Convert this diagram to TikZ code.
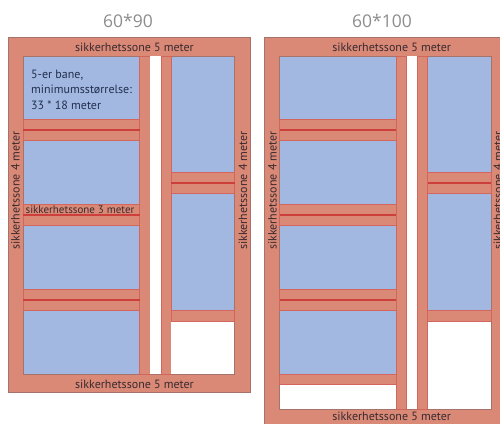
\documentclass[tikz,border=0pt]{standalone}
\usepackage{fontspec}
\setmainfont{PT Sans}
\newfontfamily\titlefont{Open Sans}
\definecolor{zone}{HTML}{D98976}
\definecolor{pitch}{HTML}{A2B8E0}
\definecolor{edgegray}{HTML}{A5736B}
\definecolor{redline}{HTML}{CC3F3A}
\definecolor{strip}{HTML}{D4655C}
\definecolor{txt}{HTML}{3A2A30}
\definecolor{navy}{HTML}{22304F}
\definecolor{titlegray}{HTML}{8C8C8C}
\tikzset{
  outerzone/.style={fill=zone,draw=edgegray,line width=0.7pt},
  innerfield/.style={fill=pitch,draw=edgegray,line width=0.7pt},
  whitearea/.style={fill=white,draw=none},
  stripbox/.style={fill=zone,draw=strip,line width=0.7pt},
  midline/.style={draw=redline,line width=1.5pt},
  lbl/.style={font=\fontsize{12}{14}\selectfont,text=txt,inner sep=0pt},
  ttl/.style={font=\titlefont\fontsize{17.5}{20}\selectfont,text=titlegray,inner sep=0pt},
}
\begin{document}
\begin{tikzpicture}[x=1pt,y=-1pt]
\useasboundingbox (0,0) rectangle (500,423);
% left panel
\path[outerzone] (8,37.5) rectangle (250,392);
\path[innerfield] (23,56) rectangle (234.7,374);
\path[stripbox] (139.5,56) rectangle (150,374);
\path[stripbox] (161,56) rectangle (171,374);
\path[whitearea] (150.3,56) rectangle (160.7,374);
\path[whitearea] (171.3,321) rectangle (234.3,373.6);
\foreach \ya/\yb/\ym in {119.5/140.5/130,204.5/225.3/215,289.3/310.3/300}{
  \path[stripbox] (23,\ya) rectangle (139.5,\yb);
  \draw[midline] (23,\ym) -- (139.5,\ym);
}
\path[stripbox] (171,172.3) rectangle (234.7,193.3);
\draw[midline] (171,183) -- (234.7,183);
\path[stripbox] (171,310.3) rectangle (234.7,321);
% right panel
\path[outerzone] (264.3,37.5) rectangle (503,426);
\path[innerfield] (279.5,56) rectangle (491.2,409);
\path[stripbox] (396,56) rectangle (406.5,409);
\path[stripbox] (417.5,56) rectangle (427.5,409);
\path[whitearea] (406.8,56) rectangle (417.2,409);
\path[whitearea] (427.8,321) rectangle (490.8,408.6);
\foreach \ya/\yb/\ym in {119.5/140.5/130,204.5/225.3/215,289.3/310.3/300}{
  \path[stripbox] (279.5,\ya) rectangle (396,\yb);
  \draw[midline] (279.5,\ym) -- (396,\ym);
}
\path[stripbox] (427.5,172.3) rectangle (491.2,193.3);
\draw[midline] (427.5,183) -- (491.2,183);
\path[stripbox] (427.5,310.3) rectangle (491.2,321);
\path[stripbox] (279.5,374.3) rectangle (396,384.7);
\path[whitearea] (279.9,385.1) rectangle (395.6,408.6);
% texts
\node[ttl] (t1) at (128,21) {60*90};
\node[ttl] (t2) at (382,21) {60*100};
\node[lbl] (a1) at (134.5,47) {sikkerhetssone 5 meter};
\node[lbl] (a2) at (134.5,384) {sikkerhetssone 5 meter};
\node[lbl,rotate=90] (a3) at (15.5,190.5) {sikkerhetssone 4 meter};
\node[lbl,rotate=90] (a4) at (243,190.5) {sikkerhetssone 4 meter};
\node[lbl,font=\fontsize{11}{13}\selectfont] (a5) at (80,209.5) {sikkerhetssone 3 meter};
\node[lbl,text=navy,align=left,anchor=north west,font=\fontsize{12}{15.2}\selectfont] (a6) at (31,70) {5-er bane,\\minimumsstørrelse:\\33 * 18 meter};
\node[lbl] (b1) at (391.7,47) {sikkerhetssone 5 meter};
\node[lbl] (b2) at (391.7,416.5) {sikkerhetssone 5 meter};
\node[lbl,rotate=90] (b3) at (272.5,190.5) {sikkerhetssone 4 meter};
\node[lbl,rotate=90] (b4) at (498,190.5) {sikkerhetssone 4 meter};
\end{tikzpicture}
\end{document}
